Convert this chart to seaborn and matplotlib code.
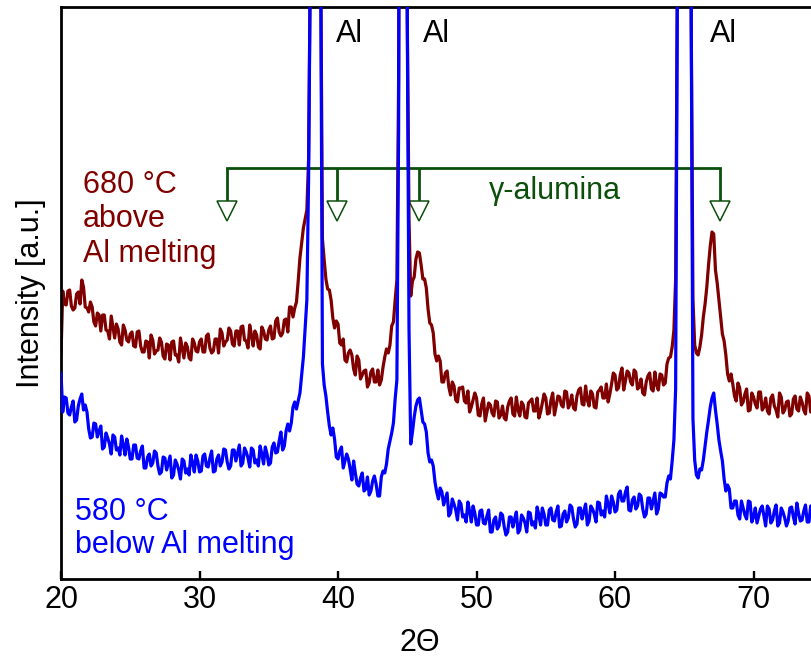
import numpy as np
import pandas as pd
import seaborn as sns
import matplotlib.pyplot as plt

# 2-theta scan grid, step 0.125 deg
two_theta = np.arange(20, 74.501, 0.125)

# intensity (a.u.) 680 °C, above Al melting -- one row per degree
i_680 = [224, 288, 275, 274, 288, 289, 273, 269,
         271, 285, 287, 275, 299, 292, 272, 271,
         267, 277, 272, 257, 253, 266, 264, 248,
         264, 264, 249, 248, 240, 263, 252, 241,
         255, 250, 237, 234, 254, 249, 239, 237,
         245, 247, 233, 232, 247, 248, 233, 227,
         227, 238, 237, 221, 244, 239, 225, 228,
         229, 241, 237, 223, 220, 235, 234, 219,
         237, 238, 224, 224, 217, 241, 231, 221,
         236, 232, 221, 219, 240, 236, 228, 227,
         237, 240, 227, 227, 243, 245, 231, 226,
         228, 240, 240, 226, 250, 246, 233, 237,
         239, 251, 248, 235, 233, 248, 248, 234,
         252, 253, 239, 238, 231, 254, 244, 233,
         248, 244, 232, 230, 252, 248, 240, 239,
         249, 253, 240, 241, 258, 261, 247, 243,
         246, 259, 260, 247, 272, 272, 262, 271,
         277, 298, 321, 336, 351, 360, 369, 420,
         620, 1500, 3000, 3000, 3000, 1500, 620, 340,
         319, 300, 290, 289, 279, 261, 251, 258,
         255, 236, 234, 240, 219, 217, 226, 229,
         224, 210, 204, 223, 219, 200, 204, 208,
         209, 192, 196, 207, 210, 197, 197, 209,
         194, 199, 212, 222, 230, 226, 234, 253,
         257, 279, 299, 500, 1200, 3000, 3000, 2000,
         560, 360, 283, 298, 302, 320, 327, 326,
         314, 300, 300, 291, 270, 256, 254, 246,
         225, 218, 223, 218, 197, 197, 206, 208,
         192, 184, 197, 193, 179, 177, 191, 191,
         192, 178, 176, 188, 167, 172, 179, 186,
         181, 164, 163, 175, 181, 158, 167, 176,
         174, 166, 163, 178, 177, 161, 164, 173,
         161, 159, 172, 178, 181, 165, 163, 182,
         169, 163, 177, 174, 162, 161, 176, 178,
         180, 168, 168, 181, 161, 167, 176, 185,
         181, 165, 166, 179, 186, 164, 173, 183,
         182, 174, 172, 188, 187, 171, 175, 184,
         171, 169, 183, 189, 191, 175, 174, 193,
         179, 173, 188, 185, 172, 171, 187, 189,
         192, 181, 181, 195, 177, 185, 195, 206,
         204, 189, 191, 204, 211, 189, 198, 208,
         206, 197, 194, 209, 207, 190, 192, 200,
         186, 184, 197, 203, 206, 190, 188, 207,
         194, 189, 205, 204, 194, 196, 215, 221,
         222, 232, 249, 300, 600, 3000, 3000, 3000,
         3000, 3000, 3000, 2000, 560, 280, 234, 226,
         224, 232, 244, 262, 275, 292, 314, 333,
         347, 345, 309, 296, 279, 262, 245, 238,
         224, 205, 198, 205, 195, 183, 178, 196,
         191, 174, 177, 185, 190, 168, 169, 186,
         182, 175, 171, 187, 187, 169, 172, 181,
         168, 165, 181, 184, 173, 169, 162, 186,
         182, 166, 169, 177, 178, 163, 165, 180,
         183, 170, 168, 182, 177, 169, 165, 186,
         183, 167, 172, 180, 181]

# intensity (a.u.) 580 °C, below Al melting -- one row per degree
i_580 = [206, 167, 182, 181, 166, 164, 172, 178,
         157, 159, 173, 180, 185, 169, 174, 167,
         150, 141, 142, 156, 155, 142, 148, 153,
         130, 132, 146, 141, 135, 125, 144, 142,
         129, 131, 124, 143, 134, 124, 140, 132,
         120, 120, 134, 134, 121, 120, 128, 133,
         111, 111, 122, 125, 113, 116, 128, 126,
         113, 105, 107, 122, 121, 109, 116, 123,
         101, 104, 119, 115, 109, 100, 120, 118,
         106, 110, 104, 124, 116, 107, 124, 118,
         107, 108, 123, 125, 113, 112, 121, 128,
         107, 108, 120, 124, 113, 117, 130, 129,
         117, 110, 113, 129, 129, 118, 126, 134,
         113, 116, 131, 127, 121, 112, 131, 129,
         116, 119, 113, 133, 125, 115, 132, 125,
         114, 116, 132, 136, 126, 127, 138, 147,
         129, 133, 148, 155, 148, 156, 172, 177,
         170, 178, 186, 204, 222, 250, 279, 400,
         620, 1500, 3000, 3000, 3000, 1500, 620, 215,
         194, 183, 167, 153, 144, 151, 140, 122,
         120, 128, 132, 111, 118, 125, 120, 110,
         99, 118, 106, 95, 93, 101, 106, 88,
         90, 102, 84, 88, 98, 103, 95, 83,
         83, 102, 108, 106, 115, 130, 138, 146,
         156, 180, 199, 450, 1200, 3000, 3000, 2000,
         560, 250, 135, 147, 162, 173, 179, 181,
         169, 157, 155, 147, 126, 117, 119, 113,
         97, 87, 80, 91, 87, 74, 80, 86,
         63, 66, 80, 75, 69, 59, 78, 75,
         62, 64, 57, 77, 68, 57, 73, 66,
         54, 54, 68, 69, 56, 55, 63, 69,
         47, 47, 59, 62, 50, 53, 66, 64,
         52, 44, 47, 62, 62, 52, 60, 67,
         46, 49, 64, 61, 56, 47, 67, 66,
         54, 57, 51, 72, 64, 54, 71, 65,
         54, 54, 69, 71, 59, 58, 67, 73,
         52, 53, 65, 68, 57, 61, 74, 72,
         60, 52, 55, 71, 71, 60, 68, 75,
         54, 58, 73, 70, 65, 57, 77, 76,
         64, 68, 62, 83, 75, 66, 83, 77,
         67, 69, 85, 88, 78, 78, 87, 92,
         69, 68, 79, 82, 70, 73, 85, 83,
         70, 62, 65, 81, 81, 70, 78, 86,
         65, 70, 86, 85, 82, 82, 96, 103,
         100, 118, 139, 190, 600, 3000, 3000, 3000,
         3000, 3000, 3000, 2000, 560, 160, 119, 104,
         101, 110, 109, 119, 133, 147, 159, 172,
         181, 186, 169, 155, 139, 128, 118, 100,
         88, 94, 90, 71, 71, 78, 78, 64,
         60, 78, 71, 64, 60, 78, 77, 57,
         62, 71, 56, 63, 70, 73, 63, 53,
         73, 70, 56, 59, 68, 74, 53, 56,
         71, 67, 61, 53, 58, 71, 72, 62,
         55, 76, 66, 58, 59, 68, 74, 57,
         57, 73, 67, 60, 59]

# gamma-alumina reflections and Al label positions
alumina_pos = [32.0, 39.9, 45.85, 67.6]
al_label_pos = [39.86, 46.14, 66.86]

red = "#800000"
blue = "#0000ff"
green = "#0b4f0b"

sns.set_style("ticks", {"axes.edgecolor": "black", "text.color": "black",
                        "xtick.color": "black", "axes.labelcolor": "black"})
plt.rcParams['font.family'] = ['Liberation Sans', 'DejaVu Sans']
narrow = ['Liberation Sans Narrow', 'Liberation Sans', 'DejaVu Sans']

df = pd.DataFrame({"two_theta": two_theta, "i680": i_680, "i580": i_580})

fig = plt.figure(figsize=(8.12, 6.58), dpi=100)
ax = fig.add_axes([61 / 812, 79 / 658, 751 / 812, 572 / 658])

# Bracket fuer gamma-Alumina
ax.plot([alumina_pos[0], alumina_pos[-1]], [411, 411], color=green, lw=2,
        solid_capstyle='projecting', zorder=1)
ax.vlines(alumina_pos, 378, 411, color=green, lw=2, zorder=1)
ax.plot(alumina_pos, [368] * len(alumina_pos), 'v', ms=14.4, mfc='white',
        mec=green, mew=1.1, zorder=1)

sns.lineplot(data=df, x="two_theta", y="i680", color=red, lw=2.3, ax=ax, zorder=2)
sns.lineplot(data=df, x="two_theta", y="i580", color=blue, lw=2.3, ax=ax, zorder=3)

ax.set_xlim(20, 74.22)
ax.set_ylim(0, 572)
ax.set_yticks([])
ax.set_xticks([20, 30, 40, 50, 60, 70])
ax.tick_params(axis='x', direction='in', length=5.8, width=1.7,
               labelsize=22, pad=4, colors='black')
for lab in ax.get_xticklabels():
    lab.set_family(narrow)
ax.spines['right'].set_visible(False)
for s in ['left', 'bottom', 'top']:
    ax.spines[s].set_linewidth(2)
    ax.spines[s].set_color('black')

ax.set_xlabel("2Θ", fontsize=22, family=narrow)
ax.xaxis.set_label_coords(0.478, -0.085)
ax.set_ylabel("Intensity [a.u.]", fontsize=22, labelpad=11)

# Beschriftungen
fs = 22
ax.text(21.59, 386, "680 °C", color=red, fontsize=fs, va='baseline')
ax.text(21.59, 352, "above", color=red, fontsize=fs, va='baseline')
ax.text(21.59, 317, "Al melting", color=red, fontsize=fs, va='baseline')
ax.text(21.01, 59, "580 °C", color=blue, fontsize=fs, va='baseline')
ax.text(21.01, 26, "below Al melting", color=blue, fontsize=fs, va='baseline')
for xp in al_label_pos:
    ax.text(xp, 537, "Al", color='black', fontsize=fs, va='baseline')
ax.text(50.9, 380, "γ-alumina", color=green, fontsize=fs, va='baseline')

plt.savefig("out.png", dpi=100)
